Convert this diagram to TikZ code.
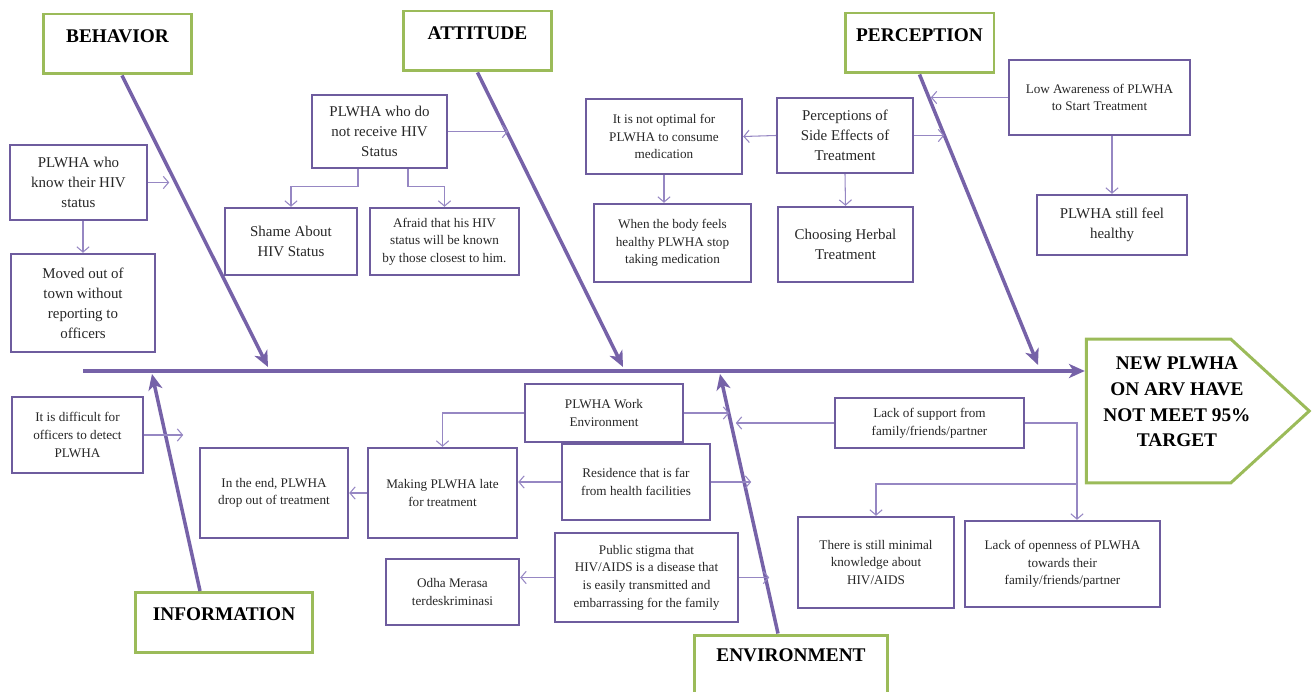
\documentclass[tikz,border=0pt]{standalone}
\usepackage{fontspec}
\setmainfont{Liberation Serif}
\usetikzlibrary{shapes,shapes.symbols,arrows.meta,calc,positioning}

\definecolor{spinecol}{RGB}{118,98,168}
\definecolor{boxcol}{RGB}{110,92,158}
\definecolor{linkcol}{RGB}{150,135,195}
\definecolor{headcol}{RGB}{155,187,89}

\begin{document}
\begin{tikzpicture}[x=0.02cm, y=-0.02cm,
    cause/.style={draw=boxcol, line width=1.4pt, align=center, inner sep=2pt, text=black!85},
    big/.style={cause, font=\fontsize{8.5}{11.4}\selectfont},
    small/.style={cause, font=\fontsize{7.5}{10}\selectfont},
    head/.style={draw=headcol, line width=1.7pt, text depth=9pt,
      minimum width=2.98cm, minimum height=1.2cm, font=\fontsize{11}{13}\selectfont\bfseries},
    goal/.style={draw=headcol, line width=1.7pt, signal, signal to=east, signal pointer angle=85},
    spine/.style={draw=spinecol, line width=2pt, -{Stealth[length=9pt,width=8pt,inset=2.5pt]}},
    link/.style={draw=linkcol, line width=0.6pt, -{Straight Barb[length=3pt,width=7pt]}}]
  \useasboundingbox (0,0) rectangle (1312,692);
  \clip (0,0) rectangle (1312,692);

  % effect
  \node[goal, minimum width=4.46cm, minimum height=2.88cm] (target) at (1158.5,411) {};
  \node[align=center, font=\fontsize{11}{14.6}\selectfont\bfseries] (targettxt) at (1177,402)
    {NEW PLWHA\\ON ARV HAVE\\NOT MEET 95\%\\TARGET};

  % main spine
  \coordinate (tail) at (83,371);
  \draw[spine, line width=2.8pt] (tail) -- (target.west |- tail);

  % categories
  \node[head] (behavior)    at (117.5,44)  {BEHAVIOR};
  \node[head] (attitude)    at (477.5,41)  {ATTITUDE};
  \node[head] (perception)  at (919.5,43)  {PERCEPTION};
  \node[head, minimum width=3.56cm] (information) at (224,622.5) {INFORMATION};
  \node[head, minimum width=3.88cm, minimum height=1.3cm, text depth=14pt] (environment) at (791,667.5) {ENVIRONMENT};

  \coordinate (b1) at (268,367);
  \coordinate (a1) at (623,367);
  \coordinate (p1) at (1038,365);
  \coordinate (i1) at (152,374);
  \coordinate (e1) at (720,374);
  \draw[spine] ([xshift=0.09cm]behavior.south) -- (b1);
  \draw[spine] (attitude.south) -- (a1);
  \draw[spine] (perception.south) -- (p1);
  \draw[spine] ([xshift=-0.48cm]information.north) -- (i1);
  \draw[spine] ([xshift=-0.26cm]environment.north) -- (e1);

  % behavior
  \node[big, minimum width=2.74cm, minimum height=1.5cm] (know) at (78.5,182.5)
    {PLWHA who\\know their HIV\\status};
  \node[big, minimum width=2.88cm, minimum height=1.96cm] (moved) at (83,303)
    {Moved out of\\town without\\reporting to\\officers};

  % attitude
  \node[big, minimum width=2.7cm, minimum height=1.46cm] (notrecv) at (379.5,131.5)
    {PLWHA who do\\not receive HIV\\Status};
  \node[big, minimum width=2.64cm, minimum height=1.34cm] (shame) at (291,241.5)
    {Shame About\\HIV Status};
  \node[small, minimum width=2.98cm, minimum height=1.34cm] (afraid) at (444.5,241.5)
    {Afraid that his HIV\\status will be known\\by those closest to him.};

  % perception
  \node[small, minimum width=3.12cm, minimum height=1.5cm] (notopt) at (664,136.5)
    {It is not optimal for\\PLWHA to consume\\medication};
  \node[big, minimum width=2.72cm, minimum height=1.5cm] (sidefx) at (845,135.5)
    {Perceptions of\\Side Effects of\\Treatment};
  \node[small, minimum width=3.14cm, minimum height=1.56cm] (bodyok) at (672.5,243)
    {When the body feels\\healthy PLWHA stop\\taking medication};
  \node[big, minimum width=2.7cm, minimum height=1.5cm] (herbal) at (845.5,244.5)
    {Choosing Herbal\\Treatment};
  \node[small, minimum width=3.62cm, minimum height=1.5cm] (lowaware) at (1099.5,97.5)
    {Low Awareness of PLWHA\\to Start Treatment};
  \node[big, minimum width=3cm, minimum height=1.2cm] (feelok) at (1112,225)
    {PLWHA still feel\\healthy};

  % information
  \node[small, minimum width=2.62cm, minimum height=1.52cm] (difficult) at (77.5,435)
    {It is difficult for\\officers to detect\\PLWHA};
  \node[small, minimum width=2.96cm, minimum height=1.8cm] (dropout) at (274,493)
    {In the end, PLWHA\\drop out of treatment};
  \node[small, minimum width=2.98cm, minimum height=1.8cm] (late) at (442.5,493)
    {Making PLWHA late\\for treatment};
  \node[small, minimum width=2.66cm, minimum height=1.32cm] (odha) at (452.5,592)
    {Odha Merasa\\terdeskriminasi};

  % environment
  \node[small, minimum width=3.16cm, minimum height=1.16cm] (workenv) at (604,413)
    {PLWHA Work\\Environment};
  \node[small, minimum width=2.96cm, minimum height=1.52cm] (residence) at (636,482)
    {Residence that is far\\from health facilities};
  \node[small, minimum width=3.66cm, minimum height=1.78cm] (stigma) at (646.5,577.5)
    {Public stigma that\\HIV/AIDS is a disease that\\is easily transmitted and\\embarrassing for the family};
  \node[small, minimum width=3.78cm, minimum height=1cm] (support) at (929.5,423)
    {Lack of support from\\family/friends/partner};
  \node[small, minimum width=3.12cm, minimum height=1.82cm] (minimal) at (876,562.5)
    {There is still minimal\\knowledge about\\HIV/AIDS};
  \node[small, minimum width=3.9cm, minimum height=1.72cm] (openness) at (1062.5,564)
    {Lack of openness of PLWHA\\towards their\\family/friends/partner};

  % links
  \draw[link] (know.east) -- ++(21,0);
  \draw[link] (moved.north |- know.south) -- (moved.north);
  \draw[link] (notrecv.east) -- ++(60,0);
  \draw[link] ([xshift=-0.43cm]notrecv.south) -- ++(0,17) -| (shame.north);
  \draw[link] ([xshift=0.57cm]notrecv.south) -- ++(0,17) -| (afraid.north);
  \draw[link] (sidefx.west) -- (notopt.east);
  \draw[link] (sidefx.east) -- ++(30,0);
  \draw[link] (notopt.south) -- (notopt.south |- bodyok.north);
  \draw[link] (sidefx.south) -- (herbal.north);
  \draw[link] (lowaware.west) -- ++(-77,0);
  \draw[link] (feelok.north |- lowaware.south) -- (feelok.north);
  \draw[link] (difficult.east) -- ++(39,0);
  \draw[link] (late.west) -- (dropout.east);
  \draw[link] (workenv.west) -| (late.north);
  \draw[link] (workenv.east) -- ++(45,0);
  \draw[link] (residence.west) -- (residence.west -| late.east);
  \draw[link] (residence.east) -- ++(40,0);
  \draw[link] (stigma.west) -- (stigma.west -| odha.east);
  \draw[link] (stigma.east) -- ++(30,0);
  \draw[link] (support.west) -- ++(-98,0);
  \coordinate (fork) at (1077,423);
  \draw[link] (support.east) -- (fork) -- (fork |- openness.north);
  \draw[link] (fork |- 0,484) -| (minimal.north);
\end{tikzpicture}
\end{document}
